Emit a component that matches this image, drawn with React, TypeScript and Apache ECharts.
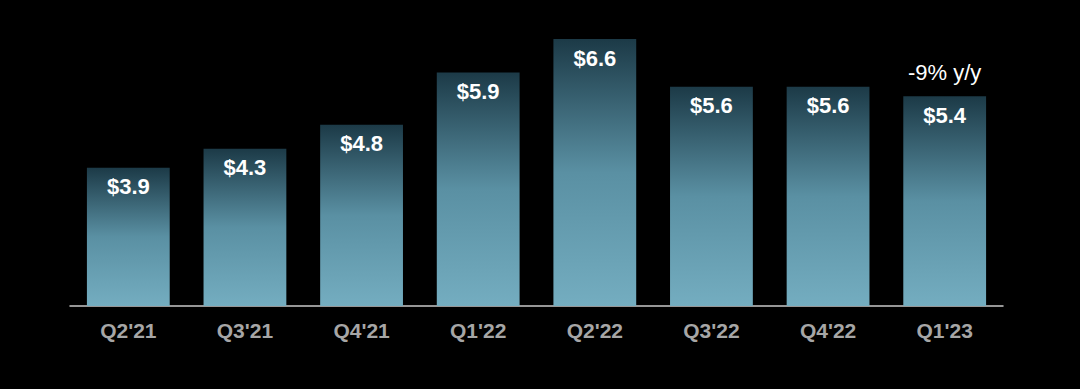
import React, { useEffect, useRef } from "react";
import * as echarts from "echarts";

const categories = ["Q2'21", "Q3'21", "Q4'21", "Q1'22", "Q2'22", "Q3'22", "Q4'22", "Q1'23"];
const values = [3.9, 4.3, 4.8, 5.9, 6.6, 5.6, 5.6, 5.4];
const annotation = "-9% y/y";

export default function App() {
  const ref = useRef<HTMLDivElement>(null);
  useEffect(() => {
    document.body.style.margin = "0";
    document.body.style.background = "#000";
    const chart = echarts.init(ref.current!, undefined, { renderer: "svg" });
    chart.setOption({
      animation: false,
      backgroundColor: "#000000",
      grid: { left: 70, right: 77, top: 20, bottom: 83 },
      xAxis: {
        type: "category",
        data: categories,
        axisLine: { lineStyle: { color: "#c8c8c8", width: 1.5 } },
        axisTick: { show: false },
        axisLabel: {
          color: "#a6a6a6",
          fontSize: 21,
          fontWeight: "bold",
          fontFamily: "Liberation Sans, Arial, sans-serif",
          margin: 14,
        },
      },
      yAxis: {
        type: "value",
        min: 1,
        max: 7,
        show: false,
        splitLine: { show: false },
      },
      series: [
        {
          type: "bar",
          data: values,
          barCategoryGap: "29%",
          itemStyle: {
            color: new echarts.graphic.LinearGradient(0, 0, 0, 1, [
              { offset: 0, color: "#1c3a47" },
              { offset: 0.5, color: "#5a90a3" },
              { offset: 1, color: "#74adc0" },
            ]),
          },
          label: {
            show: true,
            position: "insideTop",
            distance: 8,
            color: "#ffffff",
            fontSize: 22,
            fontWeight: "bold",
            fontFamily: "Liberation Sans, Arial, sans-serif",
            formatter: (p: any) => "$" + p.value.toFixed(1),
          },
          markPoint: {
            symbol: "rect",
            symbolSize: 1,
            itemStyle: { color: "transparent" },
            label: {
              show: true,
              position: "top",
              distance: 12,
              color: "#ffffff",
              fontSize: 22,
              fontFamily: "Liberation Sans, Arial, sans-serif",
              formatter: annotation,
            },
            data: [{ coord: [categories.length - 1, values[values.length - 1]] }],
          },
        },
      ],
    });
    return () => chart.dispose();
  }, []);
  return <div ref={ref} style={{ width: 1080, height: 389 }} />;
}
